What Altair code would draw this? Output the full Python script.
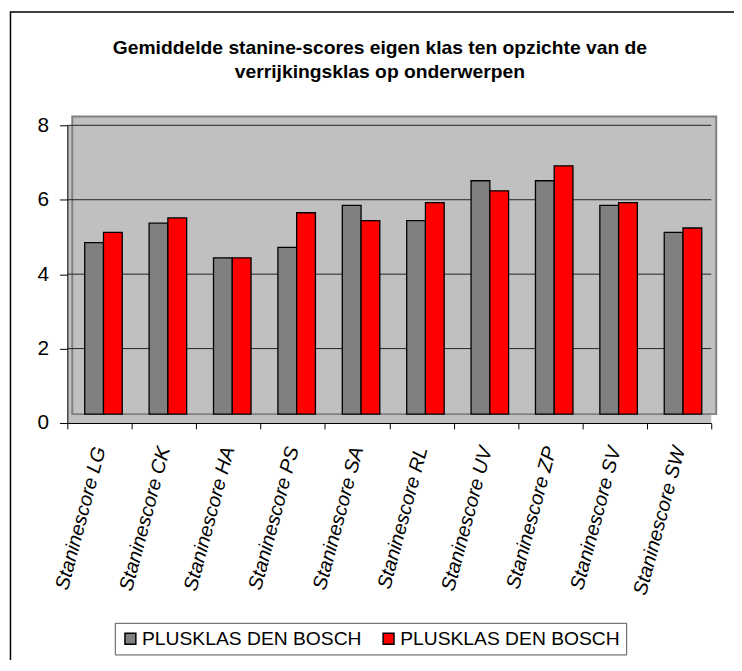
import altair as alt
import pandas as pd

categories = ["Staninescore LG", "Staninescore CK", "Staninescore HA", "Staninescore PS",
              "Staninescore SA", "Staninescore RL", "Staninescore UV", "Staninescore ZP",
              "Staninescore SV", "Staninescore SW"]
series_names = ["PLUSKLAS DEN BOSCH", "PLUSKLAS DEN BOSCH"]
grey_values = [4.85, 5.37, 4.44, 4.72, 5.85, 5.44, 6.51, 6.51, 5.85, 5.12]
red_values = [5.12, 5.51, 4.44, 5.65, 5.44, 5.92, 6.24, 6.91, 5.92, 5.24]
series_colors = ["#808080", "#FF0000"]
y_ticks = [0, 2, 4, 6, 8]
grid_values = [2, 4, 6, 8]
title_lines = ["Gemiddelde stanine-scores eigen klas ten opzichte van de",
               "verrijkingsklas op onderwerpen"]

keys = [f"{i + 1}|{n}" for i, n in enumerate(series_names)]
rows = []
for cat, g, r in zip(categories, grey_values, red_values):
    rows.append({"cat": cat, "series": keys[0], "value": g})
    rows.append({"cat": cat, "series": keys[1], "value": r})
df = pd.DataFrame(rows)

W, H = 651, 301
FONT = "Liberation Sans"

one = pd.DataFrame({"a": [0]})

yscale = alt.Scale(domain=[0, 8], nice=False)
yaxis = alt.Axis(values=y_ticks, grid=False, labelFont=FONT, labelFontSize=21,
                 labelColor="#000000", labelPadding=11, tickSize=8,
                 tickColor="#000000", domainColor="#000000")

# outer chart frame
frame = alt.Chart(one).mark_rect(fill=None, stroke="#000000", strokeWidth=1.5).encode(
    x=alt.value(-57.5), x2=alt.value(690), y=alt.value(-114.5), y2=alt.value(700)
)

# chart title (two lines)
title = alt.Chart(one).mark_text(font=FONT, fontSize=19.5, fontWeight="bold", color="#000000",
                                 align="center", baseline="alphabetic", lineHeight=24).encode(
    x=alt.value(316), y=alt.value(-72), text=alt.value(title_lines)
)

# back wall
wall = alt.Chart(one).mark_rect(fill="#C0C0C0", stroke="#808080", strokeWidth=2).encode(
    x=alt.value(5), x2=alt.value(W + 5), y=alt.value(-9), y2=alt.value(H - 9)
)

grid = alt.Chart(pd.DataFrame({"v": grid_values})).mark_rule(color="#222222", strokeWidth=1).encode(
    y=alt.Y("v:Q", scale=yscale, axis=yaxis, title=None),
    x=alt.value(0), x2=alt.value(W)
)

bars = alt.Chart(df).mark_bar(stroke="#000000", strokeWidth=1.3, y2Offset=-9).encode(
    x=alt.X("cat:N", sort=categories, title=None,
            scale=alt.Scale(paddingInner=0, paddingOuter=0),
            axis=alt.Axis(labelAngle=285, labelAlign="right", labelBaseline="middle",
                          labelFont=FONT, labelFontSize=20, labelFontStyle="italic",
                          labelColor="#000000", labelPadding=18, tickSize=6,
                          tickColor="#000000", domainColor="#000000", tickBand="extent",
                          grid=False, labelOverlap=False, labelLimit=0)),
    xOffset=alt.XOffset("series:N",
                        scale=alt.Scale(paddingOuter=0.716, paddingInner=0, align=0.647)),
    y=alt.Y("value:Q", scale=yscale, title=None, stack=None, axis=yaxis),
    y2=alt.datum(0),
    color=alt.Color("series:N", sort=keys,
                    scale=alt.Scale(domain=keys, range=series_colors),
                    legend=alt.Legend(title=None, orient="none", legendX=48, legendY=503,
                                      direction="horizontal", symbolType="square",
                                      symbolSize=121, symbolStrokeColor="#000000",
                                      symbolStrokeWidth=1.5, labelFont=FONT,
                                      labelFontSize=19.5, labelColor="#000000",
                                      labelLimit=0,
                                      labelOffset=2, columnPadding=17, padding=6,
                                      strokeColor="#555555", fillColor="#FFFFFF",
                                      labelExpr="split(datum.label, '|')[1]"))
)

chart = alt.layer(frame, title, wall, grid, bars).properties(
    width=W, height=H,
    autosize=alt.AutoSizeParams(type="none"),
    padding={"left": 60, "top": 115, "right": 23, "bottom": 236},
    background="#FFFFFF"
).configure_view(fill="#C0C0C0", stroke=None)

chart.save("out.html", embed_options={"renderer": "svg", "actions": False})
